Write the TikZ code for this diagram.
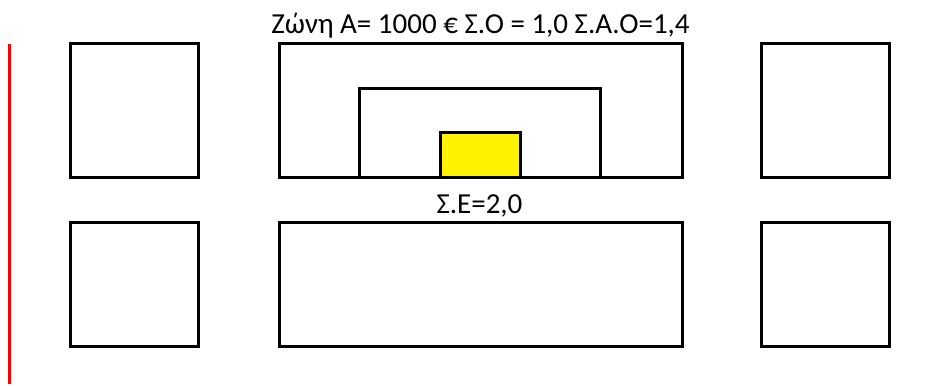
\documentclass[tikz,border=0pt]{standalone}
\usepackage{fontspec}
\setmainfont{Carlito}
\begin{document}
\begin{tikzpicture}[x=1pt,y=-1pt,
  box/.style={draw=black,line width=3pt},
  lbl/.style={font=\fontsize{29}{34}\selectfont,inner sep=0pt,anchor=base}]
\useasboundingbox (0,0) rectangle (941,385);
% red line
\draw[red,line width=3pt] (9.5,44) -- (9.5,384);
% left boxes
\draw[box] (70,43.5) rectangle (198.5,177);
\draw[box] (70,222) rectangle (198.5,346);
% right boxes
\draw[box] (761.5,43.5) rectangle (889.5,177);
\draw[box] (761.5,222) rectangle (889.5,346);
% middle boxes
\draw[box] (279.5,43.5) rectangle (682,177);
\draw[box] (359.5,88.5) rectangle (600.5,177);
\draw[box,fill=yellow] (440,132.5) rectangle (520,177);
\draw[box] (279.5,222) rectangle (682,346);
% labels
\node[lbl] (title) at (480.5,33.5) {Ζώνη Α= 1000 € Σ.Ο = 1,0 Σ.Α.Ο=1,4};
\node[lbl] (se) at (479.5,213.5) {Σ.Ε=2,0};
\end{tikzpicture}
\end{document}
